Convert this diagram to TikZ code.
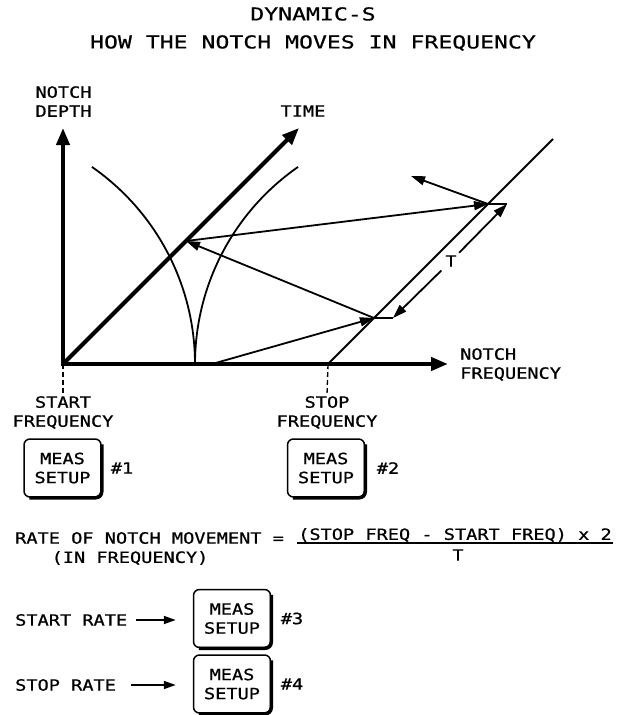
\documentclass[tikz,border=0pt]{standalone}
\usepackage{fontspec}
\newfontfamily\plotfont{DejaVu Sans Mono}[FakeStretch=1.2, FakeBold=0.8]
\newfontfamily\plottitlefont{DejaVu Sans Mono}[FakeStretch=1.3, FakeBold=0.6]
\usetikzlibrary{arrows.meta}

\tikzset{
  lbl/.style={font=\plotfont\fontsize{15.5}{19}\selectfont, inner sep=1pt, align=center},
  thinline/.style={line width=1.8pt},
  thinarrow/.style={line width=1.8pt, >={Triangle[length=14pt,width=9pt]}, ->},
  axisarrow/.style={line width=4pt, >={Triangle[length=17pt,width=13pt]}, ->},
  ratearrow/.style={line width=1.8pt, >={Triangle[length=12pt,width=8pt]}, ->},
  guide/.style={line width=1.3pt, dash pattern=on 5pt off 3pt},
  setupkey/.style={lbl, draw, line width=1.5pt, rounded corners=6pt, minimum width=77pt, minimum height=58pt},
  keyrim/.style={line width=3.5pt, rounded corners=6pt}
}

\begin{document}
\begin{tikzpicture}[x=1pt,y=-1pt]
	\useasboundingbox (0,0) rectangle (626,715);
	\node[lbl, font=\plottitlefont\fontsize{17.8}{28}\selectfont] (title) at (313,29) {DYNAMIC-S\\HOW THE NOTCH MOVES IN FREQUENCY};
	% graph points
	\coordinate (O) at (63,364);
	\coordinate (depth) at (63,128);
	\coordinate (time) at (299,128);
	\coordinate (freq) at (448,364);
	\coordinate (S) at (328,364);
	\coordinate (Stop) at (553,139);
	\coordinate (A) at (212,364);
	\coordinate (B) at (374,318);
	\coordinate (Bp) at (393,318);
	\coordinate (C) at (186,241);
	\coordinate (D) at (488,204);
	\coordinate (Dp) at (507,204);
	\coordinate (E) at (411,176);
	% notch curves
	\draw[thinline] plot[domain=0:55.2, samples=40] ({-45+240*cos(\x)},{364-240*sin(\x)});
	\draw[thinline] plot[domain=0:55.2, samples=40] ({435-240*cos(\x)},{364-240*sin(\x)});
	\draw[thinline] (S) -- (Stop);
	\draw[thinarrow] (A) -- (B);
	\draw[thinarrow] (B) -- (C);
	\draw[thinarrow] (C) -- (D);
	\draw[thinarrow] (D) -- (E);
	\draw[thinline] (B) -- (Bp);
	\draw[thinline] (D) -- (Dp);
	\node[lbl] (T) at (451,261) {T};
	\draw[thinarrow, shorten <=4pt] (T) -- (Bp);
	\draw[thinarrow, shorten <=2pt] (T) -- (Dp);
	% axes
	\draw[axisarrow, <->] (depth) -- (O) -- (freq);
	\draw[axisarrow] (O) -- (time);
	\node[lbl] (depthlbl) at (63.5,101.5) {NOTCH\\DEPTH};
	\node[lbl] (timelbl) at (303,111) {TIME};
	\node[lbl, align=left, anchor=west] (freqlbl) at (459,364.5) {NOTCH\\FREQUENCY};
	\node[lbl] (startlbl) at (63,412.5) {START\\FREQUENCY};
	\node[lbl] (stoplbl) at (327,412.5) {STOP\\FREQUENCY};
	\draw[guide] (O) -- (startlbl.north);
	\draw[guide] (S) -- (stoplbl.north);
	% keys
	\node[setupkey] (setup1) at (62.5,468) {MEAS\\SETUP};
	\node[lbl] (num1) at (122,468) {\#1};
	\node[setupkey] (setup2) at (326,468) {MEAS\\SETUP};
	\node[lbl] (num2) at (388,468) {\#2};
	% rate formula
	\node[lbl, anchor=west] (rate) at (14,538) {RATE OF NOTCH MOVEMENT =};
	\node[lbl] (rateunit) at (130,558) {(IN FREQUENCY)};
	\node[lbl] (num) at (455,535) {(STOP FREQ - START FREQ) x 2};
	\draw[thinline] (num.south west) -- (num.south east);
	\node[lbl] (period) at (458,555) {T};
	% start and stop rate
	\node[lbl, anchor=west] (startrate) at (14,620) {START RATE};
	\node[setupkey] (setup3) at (232,618.5) {MEAS\\SETUP};
	\node[lbl] (num3) at (292,618.5) {\#3};
	\draw[ratearrow, shorten <=8pt, shorten >=17pt] (startrate.east) -- (startrate.east -| setup3.west);
	\node[lbl, anchor=west] (stoprate) at (14,685) {STOP RATE};
	\node[setupkey] (setup4) at (232,684) {MEAS\\SETUP};
	\node[lbl] (num4) at (292,684) {\#4};
	\draw[ratearrow, shorten <=14pt, shorten >=17pt] (stoprate.east) -- (stoprate.east -| setup4.west);
	\foreach \k in {setup1,setup2,setup3,setup4}
		\draw[keyrim] ([yshift=-6pt]\k.north east) -- (\k.south east) -- ([xshift=6pt]\k.south west);
\end{tikzpicture}
\end{document}
